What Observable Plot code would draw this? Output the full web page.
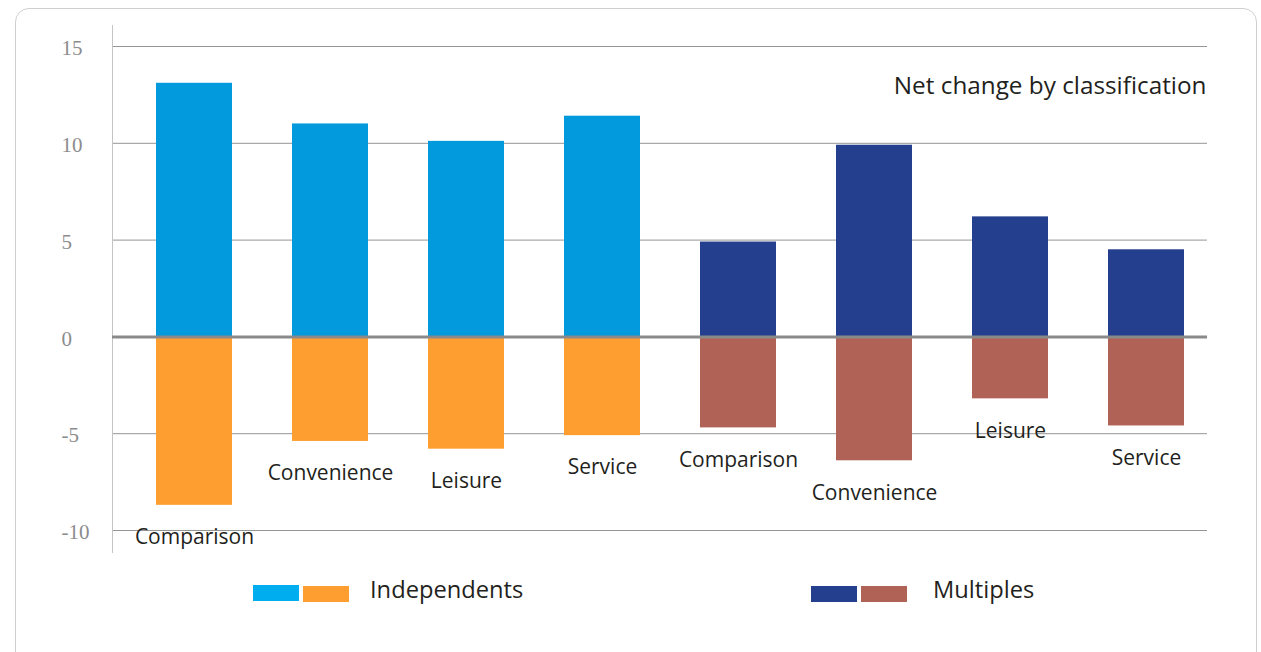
<!DOCTYPE html>
<html>
<head>
<meta charset="utf-8">
<script src="https://cdn.jsdelivr.net/npm/d3@7"></script>
<script src="https://cdn.jsdelivr.net/npm/@observablehq/plot@0.6"></script>
<style>
  html, body { margin: 0; padding: 0; background: #fff; overflow: hidden; }
  #page { position: relative; width: 1261px; height: 652px; overflow: hidden; font-family: "Open Sans", sans-serif; }
  #card { position: absolute; left: 15px; top: 8px; width: 1242px; height: 700px; border: 1.5px solid #cfcfcf; border-radius: 14px; box-sizing: border-box; }
  #chart { position: absolute; left: 0; top: 0; }
  .legend-item { position: absolute; top: 573px; font-size: 23.7px; color: #231f20; line-height: normal; white-space: nowrap; }
  .sw { position: absolute; width: 46px; height: 16px; }
</style>
</head>
<body>
<div id="page">
  <div id="card"></div>
  <div id="chart"></div>
  <div id="legend"></div>
</div>
<script>
// ---- data ----
const groups = ["Independents", "Multiples"];
const categories = ["Comparison", "Convenience", "Leisure", "Service"];
const independentsGain = [13.1, 11.0, 10.1, 11.4];
const independentsLoss = [-8.7, -5.4, -5.8, -5.1];
const multiplesGain = [4.9, 9.9, 6.2, 4.5];
const multiplesLoss = [-4.7, -6.4, -3.2, -4.6];
const yTicks = [15, 10, 5, 0, -5, -10];
const titleText = "Net change by classification";

// ---- styles ----
const colorKeys = ["Independents-gain", "Independents-loss", "Multiples-gain", "Multiples-loss"];
const colorRange = ["#0399dd", "#fe9e31", "#253f8f", "#b06256"];
const legendColors = {
  "Independents": ["#00aeef", "#fe9e31"],
  "Multiples": ["#253f8f", "#b06256"]
};

const gainBy = {Independents: independentsGain, Multiples: multiplesGain};
const lossBy = {Independents: independentsLoss, Multiples: multiplesLoss};
const rows = [];
for (const g of groups) {
  categories.forEach((c, i) => {
    rows.push({key: g + "|" + c, group: g, category: c, gain: gainBy[g][i], loss: lossBy[g][i]});
  });
}
const keys = rows.map(d => d.key);

const chart = Plot.plot({
  width: 1261,
  height: 560,
  marginTop: 46,
  marginBottom: 30,
  marginLeft: 112,
  marginRight: 54,
  style: {background: "transparent", overflow: "visible", fontFamily: "'Open Sans', sans-serif"},
  x: {type: "band", domain: keys, range: [154, 1185], paddingInner: 0.443, paddingOuter: 0, axis: null},
  y: {domain: [-10, 15], axis: null},
  color: {domain: colorKeys, range: colorRange},
  marks: [
    Plot.ruleY(yTicks.filter(d => d !== 0), {y: d => d, stroke: "#959595", strokeWidth: 1}),
    Plot.frame({anchor: "left", stroke: "#c4c4c4", strokeWidth: 1, insetTop: -21, insetBottom: -22}),
    Plot.barY(rows, {x: "key", y: "gain", fill: d => d.group + "-gain"}),
    Plot.barY(rows, {x: "key", y: "loss", fill: d => d.group + "-loss"}),
    Plot.ruleY([0], {stroke: "#8a8a8a", strokeWidth: 3}),
    Plot.text(rows, {x: "key", y: "loss", text: "category", dy: 32, fontSize: 21, fill: "#231f20"}),
    Plot.text(yTicks, {y: d => d, text: d => String(d), frameAnchor: "left", dx: -51, dy: 2,
      textAnchor: "start", lineAnchor: "middle", fontFamily: "'Liberation Serif', serif", fontSize: 21, fill: "#8c8c8c"}),
    Plot.text([titleText], {frameAnchor: "top-right", textAnchor: "end", lineAnchor: "middle",
      dx: -1, dy: 40, fontSize: 24.3, fill: "#231f20"})
  ]
});
document.getElementById("chart").appendChild(chart);

// ---- legend ----
const legend = document.getElementById("legend");
const legendLayout = [
  {name: "Independents", sw: 253, text: 370},
  {name: "Multiples", sw: 811, text: 933}
];
for (const item of legendLayout) {
  legendColors[item.name].forEach((col, i) => {
    const s = document.createElement("div");
    s.className = "sw";
    s.style.left = (item.sw + i * 50) + "px";
    s.style.top = (585 + (i === 0 && item.name === "Independents" ? 0 : 1)) + "px";
    s.style.background = col;
    legend.appendChild(s);
  });
  const t = document.createElement("div");
  t.className = "legend-item";
  t.style.left = item.text + "px";
  t.textContent = item.name;
  legend.appendChild(t);
}
</script>
</body>
</html>
